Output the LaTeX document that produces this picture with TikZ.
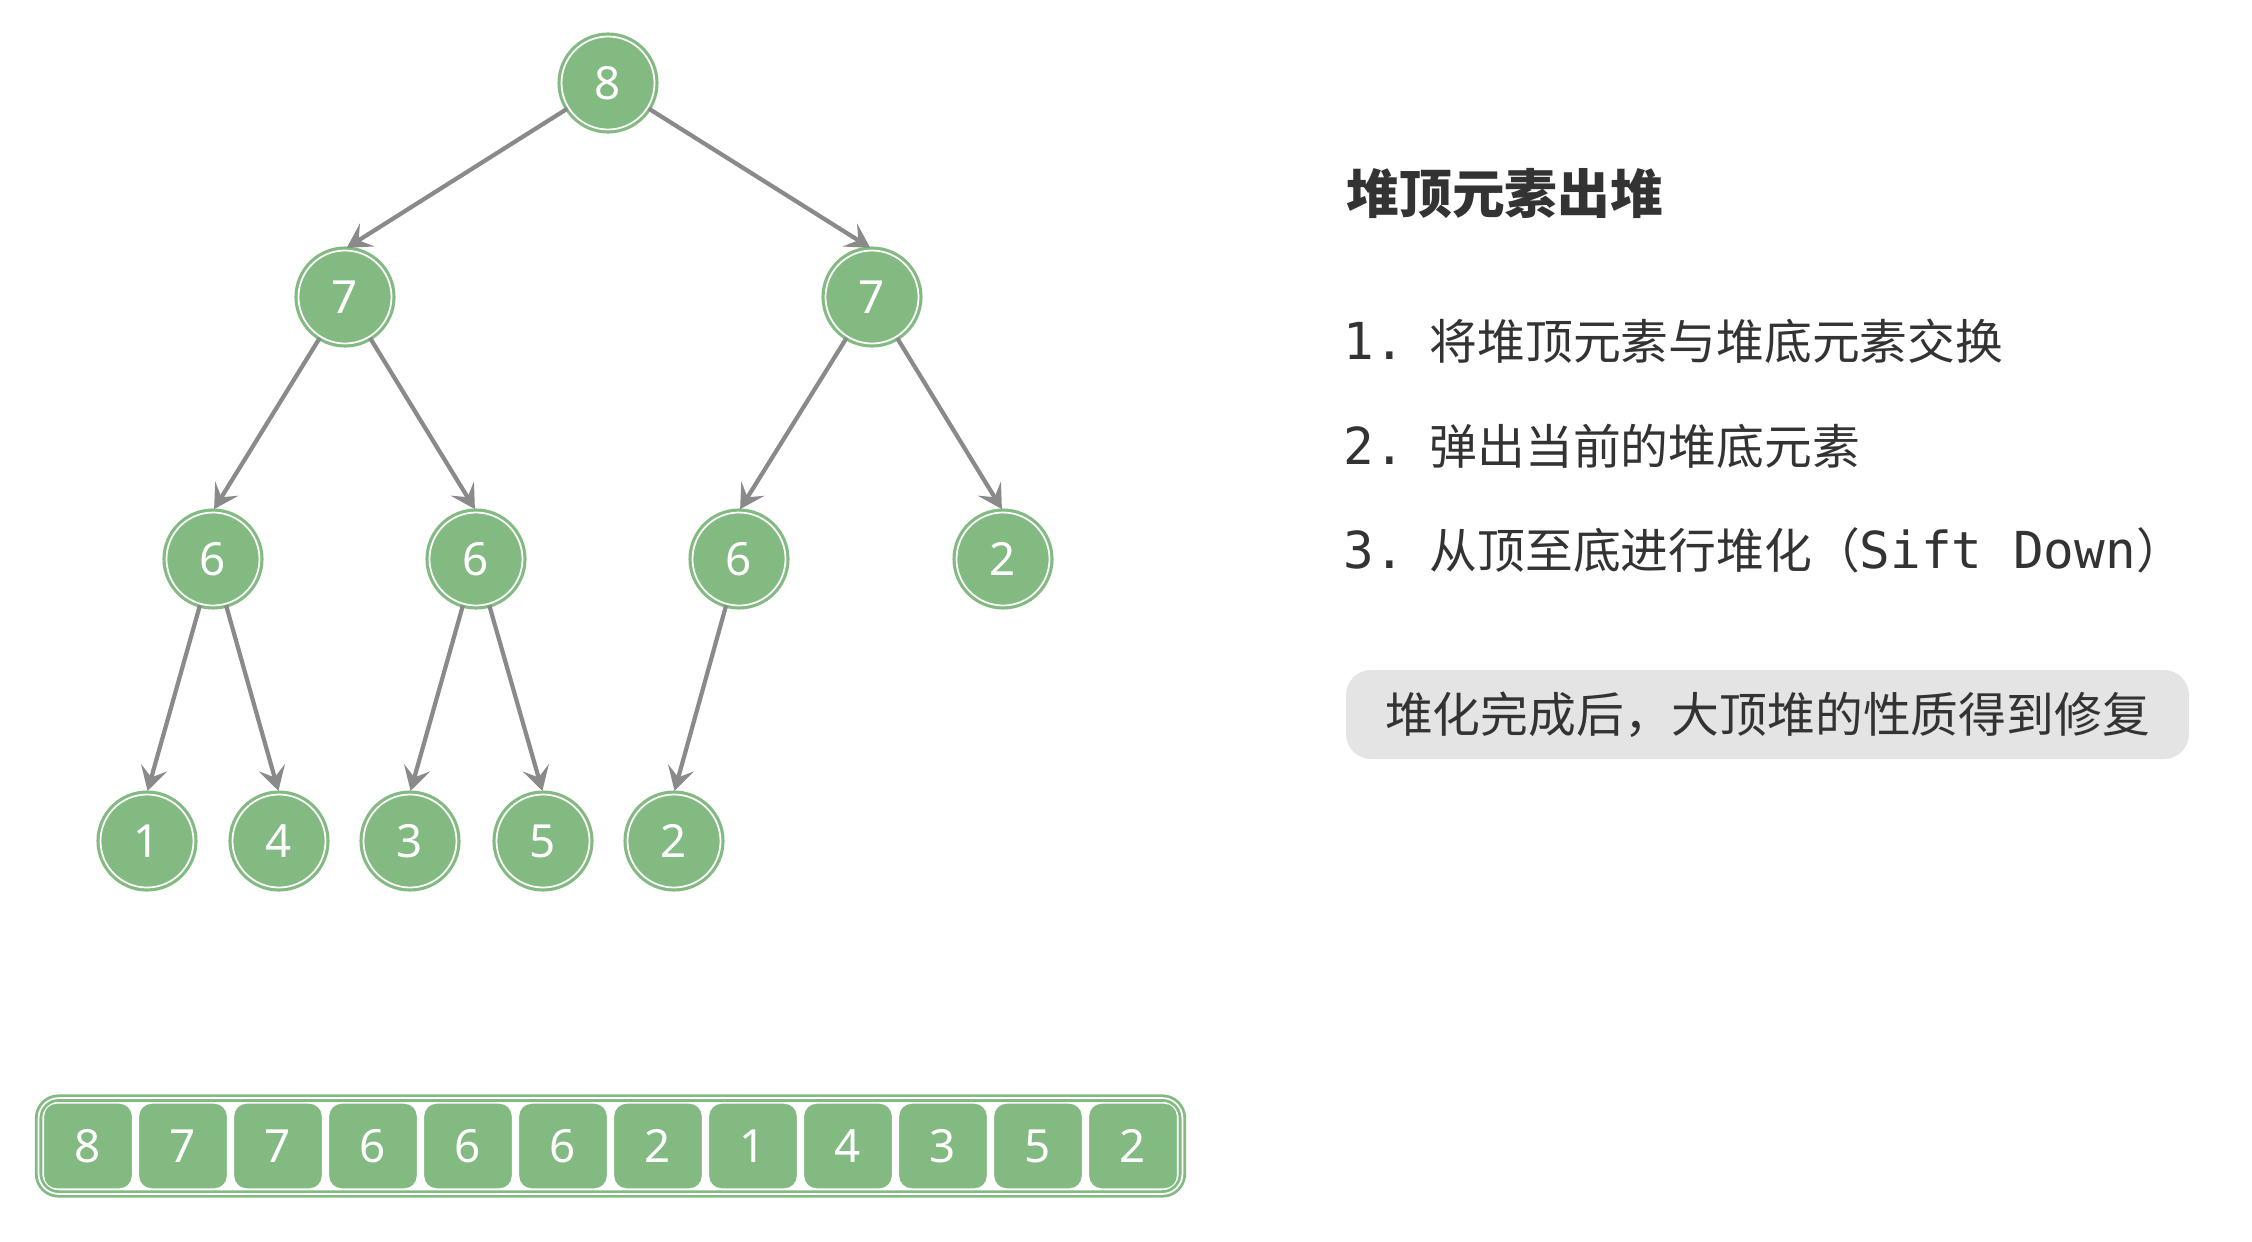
\documentclass[tikz,border=0pt]{standalone}
\usepackage{fontspec}
\setmainfont{Noto Sans}
\newfontfamily\cjk{Noto Sans CJK SC}
\newfontfamily\mono{DejaVu Sans Mono}
\usepackage{xcolor}
\usepackage{tikz}
\usetikzlibrary{positioning}
\usetikzlibrary{calc,fit}
\usetikzlibrary{arrows.meta}
\tikzset{>=stealth}
\definecolor{heapgreen}{HTML}{82BA82}
\definecolor{edgegray}{HTML}{8A8A8A}
\definecolor{textgray}{HTML}{333333}
\definecolor{notegray}{HTML}{E4E4E4}
\tikzstyle{arrowline} = [draw, edgegray, line width=1.2pt, shorten >=0.6pt, -{Stealth[length=2.4mm,width=2.7mm,inset=1mm]}]

\begin{document}
\begin{tikzpicture}[
  scale=1, every node/.style={transform shape},
	heapnode/.style={circle, minimum size=0.93cm, inner sep=0pt,
		fill=heapgreen, draw=heapgreen, double=white, double distance=0.5pt,
		line width=0.9pt, text=white, font=\fontsize{13}{13}\selectfont},
	cell/.style={rectangle, rounded corners=1.3mm, minimum width=0.89cm,
		minimum height=0.86cm, fill=heapgreen, draw=white, line width=0.4pt,
		text=white, font=\fontsize{13}{13}\selectfont},
	frame/.style={rectangle, rounded corners=2mm, draw=heapgreen, double=white,
		double distance=0.5pt, line width=0.8pt, inner sep=1.2pt},
	item/.style={anchor=west, inner sep=0pt, text=textgray,
		font=\cjk\fontsize{13.6}{13.6}\selectfont}]
	\useasboundingbox (0,0) rectangle (22.52,-12.41);
	%% Heap
	\node [heapnode] at (6.08,-0.83) (n0) {8};
	\node [heapnode] at (3.45,-2.97) (n1) {7};
	\node [heapnode] at (8.72,-2.97) (n2) {7};
	\node [heapnode] at (2.13,-5.59) (n3) {6};
	\node [heapnode] at (4.76,-5.59) (n4) {6};
	\node [heapnode] at (7.39,-5.59) (n5) {6};
	\node [heapnode] at (10.03,-5.59) (n6) {2};
	\node [heapnode] at (1.47,-8.41) (n7) {1};
	\node [heapnode] at (2.79,-8.41) (n8) {4};
	\node [heapnode] at (4.10,-8.41) (n9) {3};
	\node [heapnode] at (5.43,-8.41) (n10) {5};
	\node [heapnode] at (6.74,-8.41) (n11) {2};
	%% Edges
	\path [arrowline] (n0) to (n1.north);
	\path [arrowline] (n0) to (n2.north);
	\path [arrowline] (n1) to (n3.north);
	\path [arrowline] (n1) to (n4.north);
	\path [arrowline] (n2) to (n5.north);
	\path [arrowline] (n2) to (n6.north);
	\path [arrowline] (n3) to (n7.north);
	\path [arrowline] (n3) to (n8.north);
	\path [arrowline] (n4) to (n9.north);
	\path [arrowline] (n4) to (n10.north);
	\path [arrowline] (n5) to (n11.north);
	%% Array
	\node [cell] at (0.88,-11.46) (a0) {8};
	\node [cell] at (1.83,-11.46) (a1) {7};
	\node [cell] at (2.78,-11.46) (a2) {7};
	\node [cell] at (3.73,-11.46) (a3) {6};
	\node [cell] at (4.68,-11.46) (a4) {6};
	\node [cell] at (5.63,-11.46) (a5) {6};
	\node [cell] at (6.58,-11.46) (a6) {2};
	\node [cell] at (7.53,-11.46) (a7) {1};
	\node [cell] at (8.48,-11.46) (a8) {4};
	\node [cell] at (9.43,-11.46) (a9) {3};
	\node [cell] at (10.38,-11.46) (a10) {5};
	\node [cell] at (11.33,-11.46) (a11) {2};
	\node [frame, fit=(a0)(a11)] (arr) {};
	%% Notes
	\node [item, font=\cjk\bfseries\fontsize{15}{15}\selectfont] at (13.46,-1.94) (title) {堆顶元素出堆};
	\node [item] at (13.43,-3.41) (step1) {{\mono\fontsize{14.5}{14.5}\selectfont 1.}\hspace{7pt}将堆顶元素与堆底元素交换};
	\node [item] at (13.43,-4.46) (step2) {{\mono\fontsize{14.5}{14.5}\selectfont 2.}\hspace{7pt}弹出当前的堆底元素};
	\node [item] at (13.43,-5.50) (step3) {{\mono\fontsize{14.5}{14.5}\selectfont 3.}\hspace{7pt}从顶至底进行堆化（{\mono\fontsize{14.5}{14.5}\selectfont Sift Down}）};
	\node [rectangle, rounded corners=2.5mm, fill=notegray, minimum width=8.43cm,
		minimum height=0.89cm, text=textgray,
		font=\cjk\fontsize{13.6}{13.6}\selectfont] at (17.675,-7.145) (note) {堆化完成后，大顶堆的性质得到修复};
\end{tikzpicture}
\end{document}
